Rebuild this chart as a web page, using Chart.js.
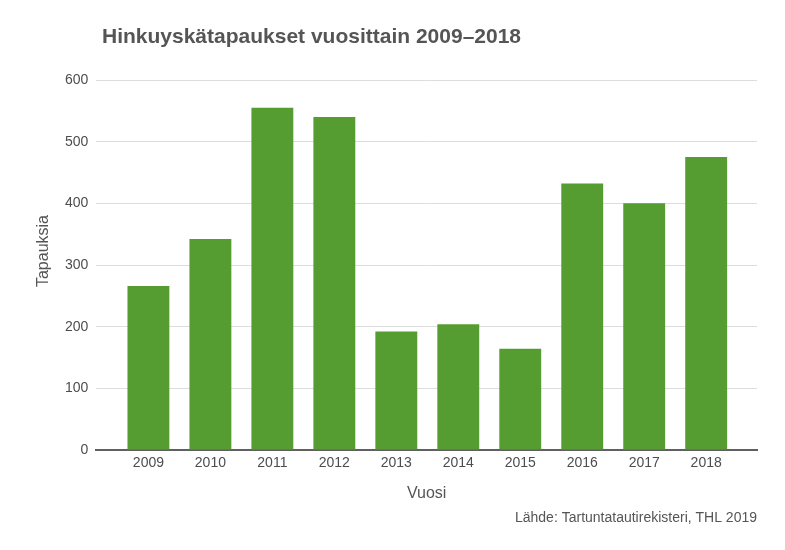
<!DOCTYPE html>
<html>
<head>
<meta charset="utf-8">
<script src="https://cdn.jsdelivr.net/npm/chart.js@4/dist/chart.umd.min.js"></script>
<style>
  html, body { margin: 0; padding: 0; background: #ffffff; }
  #wrap { width: 785px; height: 550px; }
</style>
</head>
<body>
<div id="wrap"><canvas id="kaavio"></canvas></div>
<script>
var vuodet = [2009, 2010, 2011, 2012, 2013, 2014, 2015, 2016, 2017, 2018];
var tapaukset = [266, 342, 555, 540, 192, 204, 164, 432, 400, 475];
var yTicks = [0, 100, 200, 300, 400, 500, 600];

var otsikko = "Hinkuyskätapaukset vuosittain 2009–2018";
var yOtsikko = "Tapauksia";
var xOtsikko = "Vuosi";
var lahde = "Lähde: Tartuntatautirekisteri, THL 2019";

var fontti = "'Liberation Sans', Arial, sans-serif";

var tekstit = {
    id: "tekstit",
    afterDraw: function (chart) {
        var ctx = chart.ctx;
        var area = chart.chartArea;
        ctx.save();
        ctx.fillStyle = "#555555";
        ctx.textBaseline = "middle";
        ctx.font = "bold 21px " + fontti;
        ctx.textAlign = "left";
        ctx.fillText(otsikko, 102, 37);

        ctx.font = "14px " + fontti;
        ctx.textAlign = "right";
        ctx.fillText(lahde, area.right, 518);

        ctx.translate(44, 251);
        ctx.rotate(-Math.PI / 2);
        ctx.textAlign = "center";
        ctx.font = "16px " + fontti;
        ctx.fillText(yOtsikko, 0, 0);
        ctx.restore();
    }
};

var datat = vuodet.map(function (v, i) {
    return { x: v, y: tapaukset[i] };
});

new Chart(document.getElementById("kaavio"), {
    type: "bar",
    data: {
        datasets: [{
            label: yOtsikko,
            data: datat,
            backgroundColor: "#559c31",
            borderWidth: 0,
            barPercentage: 0.676,
            categoryPercentage: 1
        }]
    },
    options: {
        responsive: true,
        maintainAspectRatio: false,
        animation: false,
        layout: { padding: { left: 57, right: 28, top: 80, bottom: 47 } },
        plugins: {
            legend: { display: false },
            tooltip: { enabled: false }
        },
        scales: {
            x: {
                type: "linear",
                offset: false,
                min: 2008.16,
                max: 2018.82,
                afterBuildTicks: function (s) {
                    s.ticks = vuodet.map(function (v) { return { value: v }; });
                },
                grid: { display: false, drawTicks: false },
                border: { display: true, color: "#606060", width: 2 },
                ticks: {
                    color: "#4d4d4d",
                    font: { family: fontti, size: 14 },
                    padding: 5,
                    autoSkip: false,
                    maxRotation: 0,
                    callback: function (v) { return String(v); }
                },
                title: {
                    display: true,
                    text: xOtsikko,
                    color: "#555555",
                    font: { family: fontti, size: 16 },
                    padding: { top: 7, bottom: 0 }
                }
            },
            y: {
                min: 0,
                max: 600,
                afterBuildTicks: function (s) {
                    s.ticks = yTicks.map(function (v) { return { value: v }; });
                },
                grid: { color: "#dddddd", drawTicks: false },
                border: { display: false },
                ticks: {
                    color: "#4d4d4d",
                    font: { family: fontti, size: 14 },
                    padding: 8
                }
            }
        }
    },
    plugins: [tekstit]
});
</script>
</body>
</html>
